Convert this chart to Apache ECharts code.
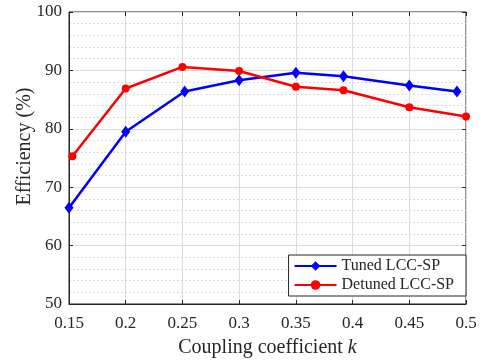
<!DOCTYPE html>
<html><head><meta charset="utf-8">
<script src="https://cdn.jsdelivr.net/npm/echarts@6/dist/echarts.min.js"></script>
<style>html,body{margin:0;padding:0;background:#fff}#c{width:483px;height:362px}</style>
</head><body><div id="c"></div>
<script>
var tunedK = [0.15, 0.2, 0.252, 0.3, 0.35, 0.392, 0.45, 0.492];
var tunedEff = [66.5, 79.5, 86.4, 88.3, 89.6, 89.0, 87.4, 86.4];
var detunedK = [0.153, 0.2, 0.25, 0.3, 0.35, 0.392, 0.45, 0.5];
var detunedEff = [75.3, 86.9, 90.6, 89.9, 87.2, 86.6, 83.7, 82.1];
var xTicks = ['0.15','0.2','0.25','0.3','0.35','0.4','0.45','0.5'];
var seriesNames = ['Tuned LCC-SP', 'Detuned LCC-SP'];

function pairs(xs, ys){ return xs.map(function(x,i){ return [x, ys[i]]; }); }
var font = 'Liberation Serif';
var chart = echarts.init(document.getElementById('c'));
chart.setOption({
  animation: false,
  grid: {left: 69, right: 17, top: 12, bottom: 58, show: true, borderColor: '#262626', borderWidth: 1,
    outerBoundsMode: 'none', containLabel: false},
  xAxis: [{
    type: 'value', min: 0.15, max: 0.5, interval: 0.05,
    name: 'Coupling coefficient {i|k}', nameLocation: 'middle', nameGap: 34, nameMoveOverlap: false,
    nameTextStyle: {fontFamily: font, fontSize: 20, color: '#262626', rich: {i: {fontFamily: font, fontStyle: 'italic', fontSize: 20, color: '#262626'}}},
    axisLine: {show: true, lineStyle: {color: '#262626'}},
    axisTick: {show: true, inside: true, length: 4, lineStyle: {color: '#262626'}},
    axisLabel: {fontFamily: font, fontSize: 17, color: '#262626', margin: 11,
      formatter: function(v){ var i = Math.round((v-0.15)/0.05); return xTicks[i] || ''; }},
    splitLine: {show: true, lineStyle: {color: '#dcdcdc', width: 1}}
  },{
    type: 'value', min: 0.15, max: 0.5, interval: 0.05, position: 'top',
    axisLine: {show: false}, axisTick: {show: true, inside: true, length: 4, lineStyle: {color: '#262626'}},
    axisLabel: {show: false}, splitLine: {show: false}
  }],
  yAxis: [{
    type: 'value', min: 50, max: 100, interval: 10,
    name: 'Efficiency (%)', nameLocation: 'middle', nameGap: 34, nameMoveOverlap: false,
    nameTextStyle: {fontFamily: font, fontSize: 20, color: '#262626', padding: [0, 0, 0, 23]},
    axisLine: {show: true, lineStyle: {color: '#262626'}},
    axisTick: {show: true, inside: true, length: 4, lineStyle: {color: '#262626'}},
    axisLabel: {fontFamily: font, fontSize: 17, color: '#262626', margin: 7},
    splitLine: {show: true, lineStyle: {color: '#dcdcdc', width: 1}},
    minorTick: {show: false, splitNumber: 5},
    minorSplitLine: {show: true, lineStyle: {color: '#dcdcdc', type: [2, 2], width: 1}}
  },{
    type: 'value', min: 50, max: 100, interval: 10, position: 'right',
    axisLine: {show: false}, axisTick: {show: true, inside: true, length: 4, lineStyle: {color: '#262626'}},
    axisLabel: {show: false}, splitLine: {show: false}
  }],
  legend: {
    orient: 'vertical', right: 17, bottom: 66, backgroundColor: '#fff',
    borderColor: '#262626', borderWidth: 1, borderRadius: 0, padding: [3, 12, 3, 5],
    itemWidth: 42, itemHeight: 12, itemGap: 3,
    textStyle: {fontFamily: font, fontSize: 16, lineHeight: 16, color: '#262626'},
    data: seriesNames
  },
  series: [{
    name: seriesNames[0], type: 'line', data: pairs(tunedK, tunedEff),
    symbol: 'diamond', symbolSize: [9, 12], color: '#0000ff',
    lineStyle: {width: 2.5, color: '#0000ff'}, itemStyle: {color: '#0000ff'}
  },{
    name: seriesNames[1], type: 'line', data: pairs(detunedK, detunedEff),
    symbol: 'circle', symbolSize: 8, color: '#ff0000',
    lineStyle: {width: 2.5, color: '#ff0000'}, itemStyle: {color: '#ff0000'}
  }]
});
</script></body></html>
